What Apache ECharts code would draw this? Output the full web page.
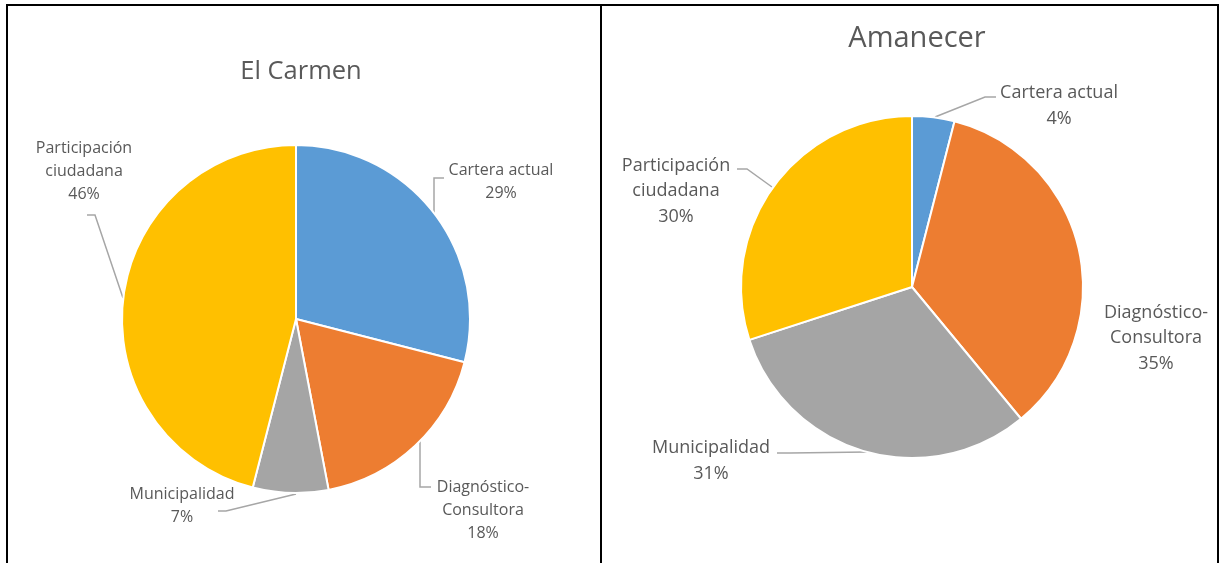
<html>

<head>
    <meta charset="utf-8">
    <script src="https://cdn.jsdelivr.net/npm/echarts@6.0.0/dist/echarts.min.js"></script>

    <style>
        body {
            margin: 0;
            background: #fff;
        }
        #chart {
            position: absolute;
            left: 0;
            top: 0;
            width: 1223px;
            height: 563px;
        }
        .frame {
            position: absolute;
            border: 2px solid #000;
            border-bottom: none;
            pointer-events: none;
        }
    </style>
</head>

<body>
    <div id="chart"></div>
    <div class="frame" style="left:6px; top:4px; width:592px; height:600px;"></div>
    <div class="frame" style="left:602px; top:4px; width:615px; height:600px; border-left:none;"></div>

    <script>
        const categories = ['Cartera actual', 'Diagnóstico-Consultora', 'Municipalidad', 'Participación ciudadana'];
        const carmen = [29, 18, 7, 46];
        const amanecer = [4, 35, 31, 30];
        const colors = ['#5B9BD5', '#ED7D31', '#A5A5A5', '#FFC000'];

        // label placement, Excel style (text centre + leader line)
        const carmenLabels = [
            { x: 501, y: 182, line: [[434, 213], [434, 178], [444, 178]] },
            { x: 483, y: 510, line: [[420, 441], [420, 487], [431, 487]] },
            { x: 182, y: 506, line: [[296, 494], [226, 511], [218, 511]] },
            { x: 84, y: 171, line: [[123, 298], [95, 215], [87, 215]] }
        ];
        const amanecerLabels = [
            { x: 1059, y: 106, line: [[935, 117], [985, 97], [996, 97]] },
            { x: 1156, y: 338, line: null },
            { x: 711, y: 461, line: [[867, 452], [790, 453], [777, 453]] },
            { x: 676, y: 191, line: [[772, 187], [747, 169], [737, 169]] }
        ];

        const labelText = (name) => name
            .replace('Diagnóstico-', 'Diagnóstico-\n')
            .replace('Participación ', 'Participación\n');

        const makeSeries = (values, layout, center, radius, fontSize, lineHeight) => ({
            type: 'pie',
            center: center,
            radius: radius,
            startAngle: 90,
            clockwise: true,
            animation: false,
            data: values.map((v, i) => ({
                name: categories[i],
                value: v,
                labelLine: { show: !!layout[i].line }
            })),
            itemStyle: {
                borderColor: '#fff',
                borderWidth: 2
            },
            label: {
                position: 'outside',
                formatter: (p) => labelText(p.name) + '\n' + p.value + '%',
                color: '#595959',
                fontFamily: 'Open Sans',
                fontSize: fontSize,
                lineHeight: lineHeight,
                align: 'center',
                overflow: 'none'
            },
            labelLine: {
                show: true,
                lineStyle: { color: '#A6A6A6', width: 1.5 }
            },
            labelLayout: (params) => {
                const l = layout[params.dataIndex];
                const res = { x: l.x, y: l.y, align: 'center', verticalAlign: 'middle', width: 200 };
                if (l.line) res.labelLinePoints = l.line;
                return res;
            },
            emphasis: { disabled: true }
        });

        const chart = echarts.init(document.getElementById('chart'));
        chart.setOption({
            color: colors,
            title: [
                {
                    text: 'El Carmen',
                    left: 296,
                    top: 54,
                    textAlign: 'center',
                    textStyle: { color: '#595959', fontFamily: 'Open Sans', fontSize: 25.5, fontWeight: 'normal' }
                },
                {
                    text: 'Amanecer',
                    left: 912,
                    top: 19,
                    textAlign: 'center',
                    textStyle: { color: '#595959', fontFamily: 'Open Sans', fontSize: 29, fontWeight: 'normal' }
                }
            ],
            series: [
                makeSeries(carmen, carmenLabels, [296, 319], 174, 16, 23),
                makeSeries(amanecer, amanecerLabels, [912, 287], 171, 18, 25.5)
            ]
        });
    </script>
</body>

</html>
